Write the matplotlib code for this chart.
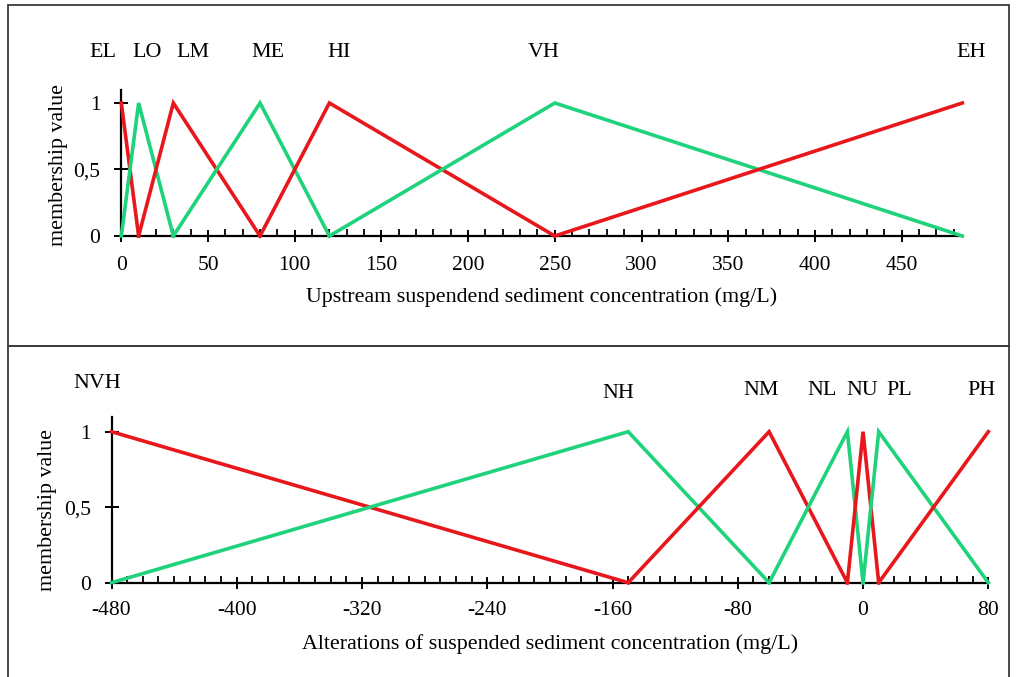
import matplotlib
matplotlib.use("Agg")
import matplotlib.pyplot as plt
from matplotlib.patches import Rectangle
from matplotlib.ticker import MultipleLocator

plt.rcParams['font.family'] = ['Liberation Serif', 'DejaVu Serif']
plt.rcParams['axes.unicode_minus'] = False

RED = '#E8171C'
GREEN = '#1FD27C'

# ---------------- data: upstream suspended sediment concentration ----------------
top_names = ['EL', 'LO', 'LM', 'ME', 'HI', 'VH', 'EH']
top_x = {
    'EL': [0, 10],
    'LO': [0, 10, 30],
    'LM': [10, 30, 80],
    'ME': [30, 80, 120],
    'HI': [80, 120, 250],
    'VH': [120, 250, 485],
    'EH': [250, 485],
}
top_y = {
    'EL': [1, 0],
    'LO': [0, 1, 0],
    'LM': [0, 1, 0],
    'ME': [0, 1, 0],
    'HI': [0, 1, 0],
    'VH': [0, 1, 0],
    'EH': [0, 1],
}
top_ticks = [0, 50, 100, 150, 200, 250, 300, 350, 400, 450]

# ---------------- data: alterations of suspended sediment concentration -----------
bot_names = ['NVH', 'NH', 'NM', 'NL', 'NU', 'PL', 'PH']
bot_x = {
    'NVH': [-480, -150],
    'NH': [-480, -150, -60],
    'NM': [-150, -60, -10],
    'NL': [-60, -10, 0],
    'NU': [-10, 0, 10],
    'PL': [0, 10, 80],
    'PH': [10, 80],
}
bot_y = {
    'NVH': [1, 0],
    'NH': [0, 1, 0],
    'NM': [0, 1, 0],
    'NL': [0, 1, 0],
    'NU': [0, 1, 0],
    'PL': [0, 1, 0],
    'PH': [0, 1],
}
bot_ticks = [-480, -400, -320, -240, -160, -80, 0, 80]

y_ticks = [0, 0.5, 1]
y_ticklabels = ['0', '0,5', '1']

# ---------------- layout ----------------
W, H = 1018, 677
fig = plt.figure(figsize=(W / 100, H / 100), dpi=100)

def fx(px):
    return px / W

def fy(py):
    return 1 - py / H

# panel borders
for (x0, y0, x1, y1) in [(8, 5, 1009, 346), (8, 346, 1009, 690)]:
    fig.add_artist(Rectangle((fx(x0), fy(y1)), fx(x1 - x0), (y1 - y0) / H,
                             transform=fig.transFigure, fill=False,
                             edgecolor='#3a3a3a', linewidth=1.3, clip_on=False))

ax1 = fig.add_axes([fx(121.3), fy(236), fx(962.3 - 121.3), (236 - 89.7) / H])
ax2 = fig.add_axes([fx(111.5), fy(582.7), fx(988.3 - 111.5), (582.7 - 416.6) / H])

FS = 15.5
FS_LAB = 15.8

def style(ax, xlim, xticks, minor, xpad):
    ax.set_xlim(*xlim)
    ax.set_ylim(0, 1.1)
    for s in ['top', 'right']:
        ax.spines[s].set_visible(False)
    for s in ['left', 'bottom']:
        ax.spines[s].set_linewidth(1.6)
        ax.spines[s].set_color('black')
    ax.set_xticks(xticks)
    ax.xaxis.set_minor_locator(MultipleLocator(minor))
    ax.set_yticks(y_ticks)
    ax.set_yticklabels(y_ticklabels)
    ax.tick_params(axis='x', which='major', direction='inout', length=9, width=1.4,
                   labelsize=FS, pad=xpad)
    ax.tick_params(axis='x', which='minor', direction='in', length=5, width=1.3)
    ax.tick_params(axis='y', which='major', direction='inout', length=10, width=1.4,
                   labelsize=FS, pad=10)
    ax.patch.set_alpha(0)

style(ax1, (0, 485), top_ticks, 10, 10)
style(ax2, (-480, 80), bot_ticks, 10, 8.5)

for i, name in enumerate(top_names):
    ax1.plot(top_x[name], top_y[name], color=RED if i % 2 == 0 else GREEN,
             lw=2.6, clip_on=False, zorder=3, solid_joinstyle='miter')
for i, name in enumerate(bot_names):
    ax2.plot(bot_x[name], bot_y[name], color=RED if i % 2 == 0 else GREEN,
             lw=2.6, clip_on=False, zorder=3, solid_joinstyle='miter')

# category labels (text placement)
top_lab_pos = [(-10.8, 1.38), (15, 1.38), (41.5, 1.38), (84.6, 1.38), (125.4, 1.38),
               (243.4, 1.38), (489.8, 1.38)]
for name, (lx, ly) in zip(top_names, top_lab_pos):
    ax1.text(lx, ly, name, ha='center', va='center', fontsize=FS_LAB, clip_on=False)

bot_lab_pos = [(-489, 1.32), (-156.5, 1.255), (-64.9, 1.27), (-25.9, 1.27),
               (-0.4, 1.27), (23.4, 1.27), (75.6, 1.27)]
for name, (lx, ly) in zip(bot_names, bot_lab_pos):
    ax2.text(lx, ly, name, ha='center', va='center', fontsize=FS_LAB, clip_on=False)

ax1.set_xlabel('Upstream suspendend sediment concentration (mg/L)', fontsize=FS_LAB, labelpad=9)
ax2.set_xlabel('Alterations of suspended sediment concentration (mg/L)', fontsize=FS_LAB, labelpad=10)
ax1.set_ylabel('membership value', fontsize=FS_LAB)
ax2.set_ylabel('membership value', fontsize=FS_LAB)
ax1.yaxis.set_label_coords((68 - 121.3) / (962.3 - 121.3), (236 - 165) / (236 - 89.7))
ax2.yaxis.set_label_coords((57 - 111.5) / (988.3 - 111.5), (582.7 - 510) / (582.7 - 416.6))

fig.savefig('out.png', dpi=100)
